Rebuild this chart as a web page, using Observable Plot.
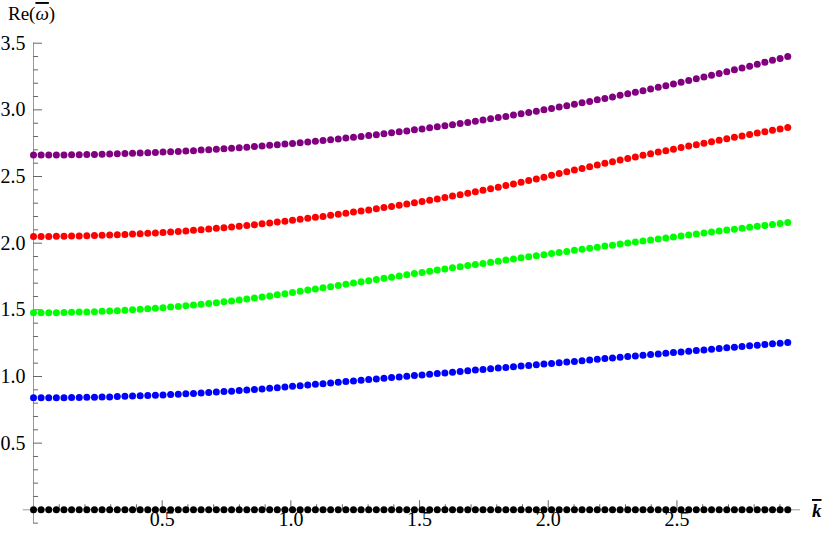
<!DOCTYPE html>
<html><head><meta charset="utf-8">
<script src="https://cdn.jsdelivr.net/npm/d3@7"></script>
<script src="https://cdn.jsdelivr.net/npm/@observablehq/plot@0.6"></script>
<style>html,body{margin:0;padding:0;background:#fff}svg{display:block}svg text{font-family:"Liberation Serif",serif !important}</style>
</head><body><div id="chart"></div>
<script>
const kValues = [0,0.0296,0.0592,0.0888,0.1184,0.148,0.1776,0.2072,0.2368,0.2664,0.296,0.3256,0.3552,0.3848,0.4144,0.444,0.4736,0.5032,0.5328,0.5624,0.592,0.6216,0.6512,0.6808,0.7104,0.74,0.7696,0.7992,0.8288,0.8584,0.888,0.9176,0.9472,0.9768,1.0064,1.036,1.0656,1.0952,1.1248,1.1544,1.184,1.2136,1.2432,1.2728,1.3024,1.332,1.3616,1.3912,1.4208,1.4504,1.48,1.5096,1.5392,1.5688,1.5984,1.628,1.6576,1.6872,1.7168,1.7464,1.776,1.8056,1.8352,1.8648,1.8944,1.924,1.9536,1.9832,2.0128,2.0424,2.072,2.1016,2.1312,2.1608,2.1904,2.22,2.2496,2.2792,2.3088,2.3384,2.368,2.3976,2.4272,2.4568,2.4864,2.516,2.5456,2.5752,2.6048,2.6344,2.664,2.6936,2.7232,2.7528,2.7824,2.812,2.8416,2.8712,2.9008,2.9304];

const mode0 = kValues.map(() => 0);
const mode1 = [0.840,0.840,0.840,0.841,0.841,0.842,0.843,0.844,0.845,0.846,
0.847,0.849,0.851,0.853,0.855,0.857,0.859,0.862,0.864,0.867,
0.870,0.873,0.876,0.879,0.883,0.887,0.890,0.894,0.898,0.903,
0.907,0.912,0.916,0.921,0.926,0.931,0.936,0.941,0.946,0.951,
0.956,0.962,0.967,0.972,0.977,0.982,0.987,0.992,0.997,1.002,
1.007,1.012,1.017,1.022,1.027,1.032,1.037,1.043,1.048,1.053,
1.058,1.063,1.068,1.073,1.078,1.083,1.088,1.093,1.098,1.103,
1.108,1.113,1.118,1.123,1.129,1.134,1.139,1.144,1.149,1.154,
1.159,1.164,1.169,1.174,1.179,1.184,1.189,1.194,1.199,1.204,
1.210,1.215,1.220,1.225,1.230,1.235,1.240,1.245,1.250,1.255];
const mode2 = [1.478,1.478,1.479,1.479,1.480,1.481,1.483,1.484,1.486,1.489,
1.491,1.494,1.497,1.500,1.504,1.508,1.512,1.516,1.521,1.525,
1.531,1.536,1.542,1.548,1.554,1.560,1.567,1.574,1.581,1.589,
1.596,1.604,1.613,1.621,1.630,1.639,1.648,1.657,1.665,1.674,
1.683,1.692,1.701,1.710,1.719,1.728,1.737,1.745,1.754,1.763,
1.772,1.780,1.789,1.798,1.806,1.815,1.823,1.832,1.840,1.848,
1.857,1.865,1.873,1.882,1.890,1.898,1.906,1.914,1.922,1.930,
1.938,1.946,1.954,1.962,1.970,1.978,1.985,1.993,2.001,2.009,
2.016,2.024,2.031,2.039,2.046,2.054,2.061,2.069,2.076,2.083,
2.091,2.098,2.105,2.112,2.119,2.126,2.133,2.140,2.148,2.155];
const mode3 = [2.050,2.050,2.050,2.051,2.052,2.053,2.054,2.055,2.057,2.059,
2.061,2.063,2.065,2.068,2.071,2.074,2.077,2.080,2.084,2.088,
2.092,2.096,2.101,2.106,2.111,2.116,2.121,2.127,2.132,2.138,
2.145,2.151,2.158,2.164,2.172,2.179,2.186,2.194,2.201,2.209,
2.217,2.225,2.233,2.241,2.249,2.258,2.267,2.275,2.284,2.293,
2.303,2.312,2.322,2.332,2.342,2.353,2.364,2.374,2.386,2.397,
2.408,2.420,2.432,2.444,2.457,2.470,2.482,2.495,2.509,2.522,
2.535,2.548,2.561,2.574,2.586,2.599,2.611,2.623,2.635,2.647,
2.659,2.671,2.683,2.694,2.705,2.717,2.728,2.739,2.750,2.761,
2.772,2.783,2.794,2.804,2.815,2.826,2.836,2.847,2.857,2.868];
const mode4 = [2.661,2.661,2.661,2.662,2.662,2.663,2.664,2.665,2.666,2.667,
2.669,2.670,2.672,2.674,2.676,2.678,2.680,2.683,2.685,2.688,
2.691,2.694,2.698,2.701,2.705,2.708,2.712,2.716,2.720,2.725,
2.729,2.734,2.738,2.743,2.748,2.754,2.759,2.764,2.770,2.776,
2.782,2.788,2.794,2.801,2.807,2.814,2.821,2.828,2.835,2.842,
2.850,2.857,2.865,2.873,2.881,2.889,2.898,2.906,2.915,2.924,
2.933,2.942,2.951,2.961,2.970,2.980,2.990,3.000,3.010,3.021,
3.031,3.042,3.053,3.063,3.075,3.086,3.097,3.109,3.121,3.132,
3.144,3.157,3.169,3.181,3.194,3.207,3.220,3.233,3.246,3.259,
3.273,3.286,3.300,3.314,3.328,3.343,3.357,3.372,3.386,3.401];

const seriesNames = ["mode 0", "mode 1", "mode 2", "mode 3", "mode 4"];
const seriesColors = ["#000000", "#0000ff", "#00ff00", "#ff0000", "#800080"];
const seriesValues = [mode0, mode1, mode2, mode3, mode4];

const xMajor = [0.5, 1.0, 1.5, 2.0, 2.5];
const xMinor = [0.1,0.2,0.3,0.4,0.6,0.7,0.8,0.9,1.1,1.2,1.3,1.4,1.6,1.7,1.8,1.9,2.1,2.2,2.3,2.4,2.6,2.7,2.8,2.9];
const yMajor = [0.5, 1.0, 1.5, 2.0, 2.5, 3.0, 3.5];
const yMinor = [-0.1,0.1,0.2,0.3,0.4,0.6,0.7,0.8,0.9,1.1,1.2,1.3,1.4,1.6,1.7,1.8,1.9,2.1,2.2,2.3,2.4,2.6,2.7,2.8,2.9,3.1,3.2,3.3,3.4];
const xAxisExtent = [-0.04, 2.98];
const yAxisExtent = [-0.1, 3.5];

const rows = seriesNames.flatMap((name, s) =>
  kValues.map((k, i) => ({k, w: seriesValues[s][i], name})));

const serif = "Liberation Serif";
const fmt = d => d.toFixed(1);

const chart = Plot.plot({
  width: 830, height: 537,
  marginLeft: 33, marginRight: 30, marginTop: 42.7, marginBottom: 27.7,
  x: {domain: [0, 2.98]},
  y: {domain: [0, 3.5]},
  color: {type: "ordinal", domain: seriesNames, range: seriesColors},
  style: {fontFamily: serif, fontSize: "20px", background: "#fff", color: "#000"},
  marks: [
    Plot.ruleY([0], {x1: xAxisExtent[0], x2: xAxisExtent[1], stroke: "#9a9a9a"}),
    Plot.ruleX([0], {y1: yAxisExtent[0], y2: yAxisExtent[1], stroke: "#9a9a9a"}),
    Plot.axisY(yMinor, {anchor: "left", tickSize: -5, tickFormat: () => "", stroke: "#666", label: null}),
    Plot.axisY(yMajor, {anchor: "left", tickSize: -9, tickFormat: () => "", stroke: "#666", label: null}),
    Plot.axisY(yMajor, {anchor: "left", tickSize: 0, tickPadding: 8, tickFormat: fmt, fill: "#000", fontSize: 20, fontFamily: serif, label: null}),
    Plot.axisX(xMinor, {anchor: "bottom", tickSize: -5, tickFormat: () => "", stroke: "#666", label: null}),
    Plot.axisX(xMajor, {anchor: "bottom", tickSize: -9, tickFormat: () => "", stroke: "#666", label: null}),
    Plot.axisX(xMajor, {anchor: "bottom", tickSize: 0, tickPadding: 2, tickFormat: fmt, fill: "#000", fontSize: 20, fontFamily: serif, label: null}),
    Plot.dot(rows, {x: "k", y: "w", fill: "name", r: 3.5, stroke: null})
  ]
});

const svg = d3.select(chart);
const yl = svg.append("text").attr("x", 8).attr("y", 20).attr("text-anchor", "start")
  .style("font-size", "19px").attr("fill", "#000");
yl.append("tspan").text("Re(");
yl.append("tspan").style("font-style", "italic").style("text-decoration", "overline").text("ω");
yl.append("tspan").text(")");
svg.append("text").attr("x", 812).attr("y", 517).attr("text-anchor", "start")
  .style("font-size", "19px").style("font-style", "italic").style("font-weight", "bold")
  .style("text-decoration", "overline").attr("fill", "#000").text("k");

document.getElementById("chart").appendChild(chart);
</script>
</body></html>
